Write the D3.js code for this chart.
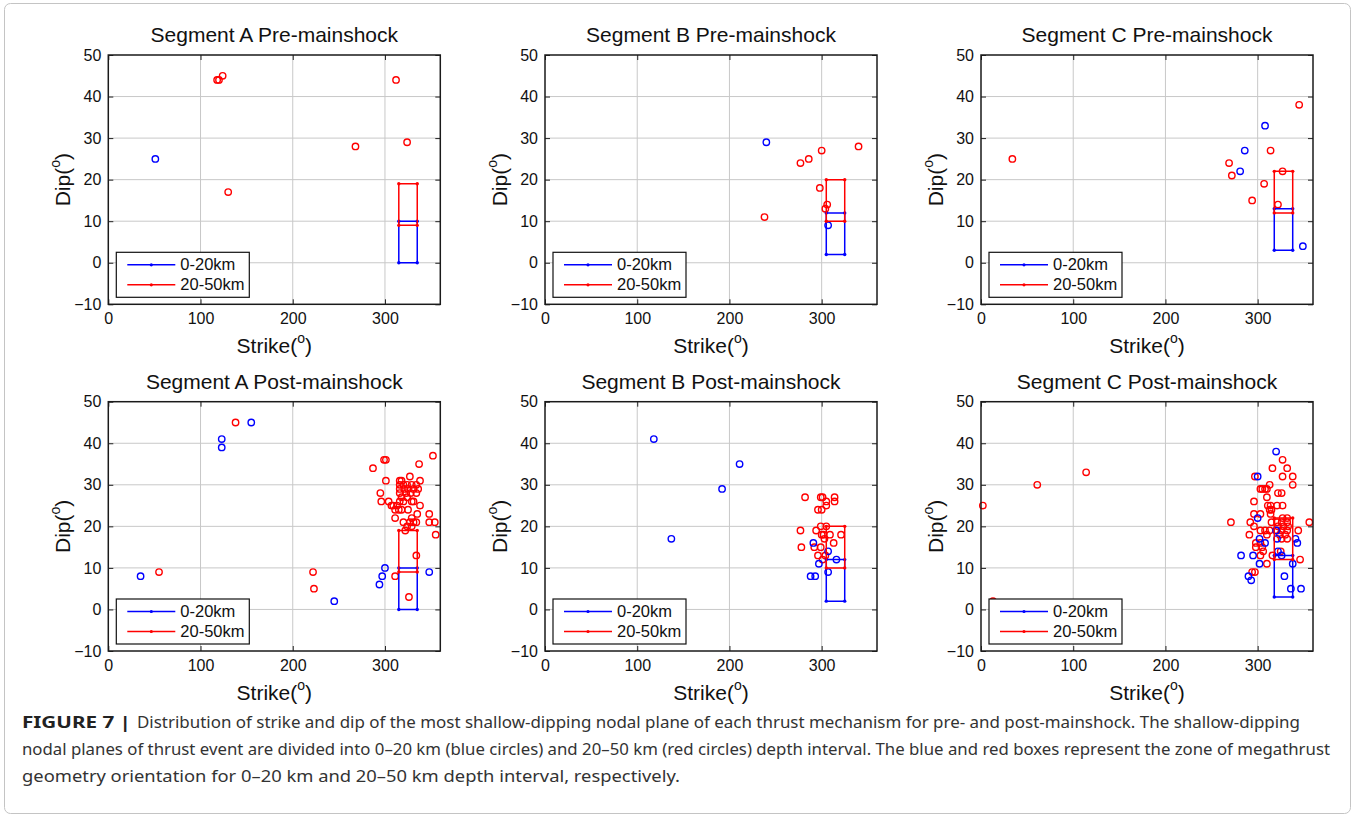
<!DOCTYPE html>
<html>
<head>
<meta charset="utf-8">
<script src="https://cdn.jsdelivr.net/npm/d3@7"></script>
<style>
  html, body { margin: 0; padding: 0; background: #fff; }
  svg { display: block; }
  text { font-family: "Liberation Sans", Arial, Helvetica, sans-serif; }
</style>
</head>
<body>
<svg id="chart" width="1355" height="818"></svg>
<script>
// ---------------- DATA ----------------
const panelTitles = ["Segment A Pre-mainshock", "Segment B Pre-mainshock", "Segment C Pre-mainshock",
                     "Segment A Post-mainshock", "Segment B Post-mainshock", "Segment C Post-mainshock"];
const xTicks = [0, 100, 200, 300];
const yTicks = [-10, 0, 10, 20, 30, 40, 50];
const legendLabels = ["0-20km", "20-50km"];

// [strike, dip] of shallow (0-20 km, blue) and deep (20-50 km, red) events
const aPreShallow = [[51,25]];
const aPreDeep = [[118,44],[120,44],[124,45],[130,17],[268,28],[312,44],[324,29]];
const bPreShallow = [[240,29],[307,9]];
const bPreDeep = [[238,11],[277,24],[286,25],[300,27],[340,28],[298,18],[306,14],[304,13]];
const cPreShallow = [[308,33],[286,27],[281,22],[349,4]];
const cPreDeep = [[34,25],[269,24],[272,21],[294,15],[307,19],[314,27],[327,22],[322,14],[345,38]];

const aPostShallow = [[35,8],[123,41],[123,39],[155,45],[245,2],[294,6],[297,8],[300,10],[348,9]];
const aPostDeep = [[55,9],[138,45],[222,9],[223,5],[287,34],[299,36],[301,36],[352,37],[337,35],[301,31],
  [295,28],[296,26],[304,26],[327,32],[316,31],[318,31],[338,31],[316,30],[320,30],[324,30],[329,30],[334,30],
  [316,29],[321,29],[325,29],[331,29],[336,29],[316,28],[323,28],[328,28],[334,28],[318,27],[324,27],
  [309,25],[313,25],[307,25],[311,24],[316,26],[320,26],[329,26],[331,26],[338,25],[315,24],[318,24],[325,24],
  [335,23],[311,22],[320,21],[327,21],[329,22],[334,21],[324,20],[329,20],[331,21],[322,19],
  [348,23],[348,21],[354,21],[355,18],[334,13],[311,8],[326,3]];
const bPostShallow = [[118,41],[137,17],[192,29],[211,35],[291,16],[297,11],[288,8],[293,8],[307,9],[307,14],[316,12]];
const bPostDeep = [[282,27],[299,27],[301,27],[314,27],[314,26],[305,26],[305,25],[296,24],[300,24],
  [277,19],[278,15],[294,19],[299,20],[305,20],[300,18],[302,18],[309,18],[321,18],[303,17],[313,16],
  [292,15],[299,15],[296,13],[304,13],[301,12]];
const cPostShallow = [[300,32],[320,38],[300,22],[302,17],[308,16],[282,13],[295,13],[302,11],[290,8],[293,7],
  [320,19],[321,17],[322,14],[326,13],[329,8],[336,5],[347,5],[338,11],[341,17],[343,16]];
const cPostDeep = [[2,25],[61,30],[114,33],[13,2],[271,21],[356,21],
  [327,36],[316,34],[332,34],[327,32],[338,32],[297,32],[338,30],[313,30],[310,29],[308,29],[303,29],[305,29],
  [322,28],[326,28],[310,27],[296,26],[311,25],[314,25],[321,25],[327,25],[313,24],[315,24],[314,23],
  [296,23],[303,23],[327,22],[332,22],[292,21],[315,21],[321,21],[326,21],[332,21],[296,20],[322,20],[328,20],[333,20],
  [303,19],[308,19],[313,19],[321,19],[326,19],[332,19],[344,19],[291,18],[310,18],[324,18],[330,18],
  [326,17],[332,17],[298,16],[303,16],[298,15],[305,15],[306,14],[325,14],[303,13],[316,13],[346,12],[310,11],
  [294,9],[297,9]];

// megathrust geometry zones: strike range, shallow dip range, deep dip range
const aBoxStrike = [315, 335], aBoxShallowDip = [0, 10], aBoxDeepDip = [9, 19];
const bBoxStrike = [305, 325], bBoxShallowDip = [2, 12], bBoxDeepDip = [10, 20];
const cBoxStrike = [318, 338], cBoxShallowDip = [3, 13], cBoxDeepDip = [12, 22];

const captionBold = "FIGURE 7 |";
const captionLines = [
  "Distribution of strike and dip of the most shallow-dipping nodal plane of each thrust mechanism for pre- and post-mainshock. The shallow-dipping",
  "nodal planes of thrust event are divided into 0\u201320 km (blue circles) and 20\u201350 km (red circles) depth interval. The blue and red boxes represent the zone of megathrust",
  "geometry orientation for 0\u201320 km and 20\u201350 km depth interval, respectively."
];

// ---------------- LAYOUT ----------------
const BLUE = "#0000ff", RED = "#ff0000";
const colX = [108.3, 545, 981];
const rowY = [55, 401.7];
const PW = 332, PH = 249.3;

const panels = [
  {shallow: aPreShallow, deep: aPreDeep, bs: aBoxStrike, bsh: aBoxShallowDip, bd: aBoxDeepDip},
  {shallow: bPreShallow, deep: bPreDeep, bs: bBoxStrike, bsh: bBoxShallowDip, bd: bBoxDeepDip},
  {shallow: cPreShallow, deep: cPreDeep, bs: cBoxStrike, bsh: cBoxShallowDip, bd: cBoxDeepDip},
  {shallow: aPostShallow, deep: aPostDeep, bs: aBoxStrike, bsh: aBoxShallowDip, bd: aBoxDeepDip},
  {shallow: bPostShallow, deep: bPostDeep, bs: bBoxStrike, bsh: bBoxShallowDip, bd: bBoxDeepDip},
  {shallow: cPostShallow, deep: cPostDeep, bs: cBoxStrike, bsh: cBoxShallowDip, bd: cBoxDeepDip}
];

const svg = d3.select("#chart");

// outer figure frame
svg.append("rect").attr("x", 4.5).attr("y", 3.5).attr("width", 1346).attr("height", 810)
  .attr("rx", 6).attr("fill", "none").attr("stroke", "#c4c4c4").attr("stroke-width", 1);

panels.forEach((p, i) => {
  const ox = colX[i % 3], oy = rowY[Math.floor(i / 3)];
  const g = svg.append("g").attr("transform", `translate(${ox},${oy})`);
  const x = d3.scaleLinear().domain([0, 360]).range([0, PW]);
  const y = d3.scaleLinear().domain([-10, 50]).range([PH, 0]);

  g.append("rect").attr("width", PW).attr("height", PH).attr("fill", "#fff");

  // grid
  g.append("g").selectAll("line").data(xTicks.filter(t => t > 0)).join("line")
    .attr("x1", d => x(d)).attr("x2", d => x(d)).attr("y1", 0).attr("y2", PH)
    .attr("stroke", "#c8c8c8").attr("stroke-width", 1);
  g.append("g").selectAll("line").data(yTicks.filter(t => t > -10 && t < 50)).join("line")
    .attr("y1", d => y(d)).attr("y2", d => y(d)).attr("x1", 0).attr("x2", PW)
    .attr("stroke", "#c8c8c8").attr("stroke-width", 1);

  const circ = (data, color) => g.append("g").selectAll("circle").data(data).join("circle")
    .attr("cx", d => x(d[0])).attr("cy", d => y(d[1])).attr("r", 3.2)
    .attr("fill", "none").attr("stroke", color).attr("stroke-width", 1.4);
  circ(p.deep, RED);
  circ(p.shallow, BLUE);

  const drawBox = (sr, dr, color) => {
    const pts = [[sr[0], dr[0]], [sr[1], dr[0]], [sr[1], dr[1]], [sr[0], dr[1]], [sr[0], dr[0]]];
    g.append("path").attr("d", d3.line().x(d => x(d[0])).y(d => y(d[1]))(pts))
      .attr("fill", "none").attr("stroke", color).attr("stroke-width", 1.5);
    g.append("g").selectAll("circle").data(pts.slice(0, 4)).join("circle")
      .attr("cx", d => x(d[0])).attr("cy", d => y(d[1])).attr("r", 1.7).attr("fill", color);
  };
  drawBox(p.bs, p.bsh, BLUE);
  drawBox(p.bs, p.bd, RED);

  const axB = g.append("g").attr("transform", `translate(0,${PH})`)
    .call(d3.axisBottom(x).tickValues(xTicks).tickSize(-5).tickPadding(6).tickSizeOuter(0));
  const axL = g.append("g")
    .call(d3.axisLeft(y).tickValues(yTicks).tickSize(-5).tickPadding(7).tickSizeOuter(0));
  const axT = g.append("g")
    .call(d3.axisTop(x).tickValues(xTicks).tickSize(-5).tickFormat("").tickSizeOuter(0));
  const axR = g.append("g").attr("transform", `translate(${PW},0)`)
    .call(d3.axisRight(y).tickValues(yTicks).tickSize(-5).tickFormat("").tickSizeOuter(0));
  [axB, axL, axT, axR].forEach(a => {
    a.select(".domain").remove();
    a.selectAll(".tick line").attr("stroke", "#222").attr("stroke-width", 1);
    a.selectAll("text").attr("fill", "#111").style("font-size", "16px")
      .style("font-family", "'Liberation Sans', Arial, sans-serif");
  });
  axB.selectAll("text").attr("dy", "0.85em");
  g.append("rect").attr("width", PW).attr("height", PH).attr("fill", "none")
    .attr("stroke", "#1a1a1a").attr("stroke-width", 1.5);

  // legend
  const lg = g.append("g").attr("transform", `translate(8,${PH - 52})`);
  lg.append("rect").attr("width", 133).attr("height", 45).attr("fill", "#fff")
    .attr("stroke", "#111").attr("stroke-width", 1.2);
  [BLUE, RED].forEach((c, k) => {
    const ly = 12.5 + k * 20;
    lg.append("line").attr("x1", 11).attr("x2", 59).attr("y1", ly).attr("y2", ly)
      .attr("stroke", c).attr("stroke-width", 1.5);
    lg.append("circle").attr("cx", 35).attr("cy", ly).attr("r", 1.6).attr("fill", c);
    lg.append("text").attr("x", 64).attr("y", ly + 5.5).text(legendLabels[k])
      .attr("fill", "#111").style("font-size", "16.5px");
  });

  // title
  g.append("text").attr("x", PW / 2).attr("y", -13).attr("text-anchor", "middle")
    .attr("fill", "#111").style("font-size", "21px").text(panelTitles[i]);

  // x label
  const xl = g.append("text").attr("x", PW / 2).attr("y", PH + 49).attr("text-anchor", "middle")
    .attr("fill", "#111").style("font-size", "21px");
  xl.append("tspan").text("Strike(");
  xl.append("tspan").attr("dy", -10).style("font-size", "14px").text("o");
  xl.append("tspan").attr("dy", 10).text(")");

  // y label
  const yl = g.append("text").attr("transform", `translate(-38,${PH / 2}) rotate(-90)`)
    .attr("text-anchor", "middle").attr("fill", "#111").style("font-size", "21px");
  yl.append("tspan").text("Dip(");
  yl.append("tspan").attr("dy", -10).style("font-size", "14px").text("o");
  yl.append("tspan").attr("dy", 10).text(")");
});

// caption
const capFont = "'Noto Sans', 'Liberation Sans', Arial, sans-serif";
svg.append("text").attr("x", 22).attr("y", 728).attr("fill", "#222")
  .style("font-family", capFont).style("font-size", "16px").style("font-weight", "bold")
  .attr("textLength", 109).attr("lengthAdjust", "spacingAndGlyphs").text(captionBold);
const capStarts = [137, 22, 22];
const capEnds = [1300, 1330, 680];
captionLines.forEach((line, k) => {
  svg.append("text").attr("x", capStarts[k]).attr("y", 728 + k * 27)
    .attr("fill", "#333").style("font-family", capFont).style("font-size", "16px")
    .attr("textLength", capEnds[k] - capStarts[k]).attr("lengthAdjust", "spacingAndGlyphs")
    .text(line);
});
</script>
</body>
</html>
